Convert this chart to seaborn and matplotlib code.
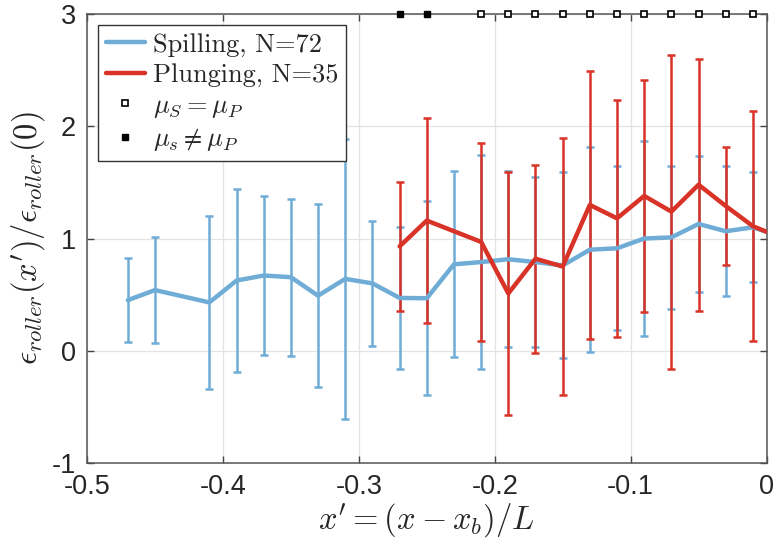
import matplotlib
matplotlib.use('Agg')
import matplotlib.pyplot as plt
from matplotlib.lines import Line2D
import seaborn as sns
import numpy as np
import pandas as pd

# spilling breakers: mean and std of normalized roller dissipation
x_spill = [-0.47, -0.45, -0.41, -0.39, -0.37, -0.35, -0.33, -0.31, -0.29, -0.27, -0.25, -0.23,
           -0.21, -0.19, -0.17, -0.15, -0.13, -0.11, -0.09, -0.07, -0.05, -0.03, -0.01, 0.0]
mean_spill = [0.45, 0.54, 0.43, 0.625, 0.67, 0.655, 0.49, 0.64, 0.60, 0.47, 0.467, 0.77,
              0.79, 0.815, 0.79, 0.76, 0.90, 0.913, 1.00, 1.01, 1.13, 1.065, 1.10, 1.06]
std_spill = [0.375, 0.475, 0.775, 0.815, 0.705, 0.70, 0.815, 1.25, 0.555, 0.635, 0.865, 0.83,
             0.955, 0.785, 0.76, 0.83, 0.915, 0.73, 0.87, 0.64, 0.605, 0.58, 0.49]

# plunging breakers
x_plunge = [-0.27, -0.25, -0.21, -0.19, -0.17, -0.15, -0.13, -0.11, -0.09, -0.07, -0.05, -0.03, -0.01, 0.0]
mean_plunge = [0.93, 1.16, 0.97, 0.51, 0.82, 0.75, 1.30, 1.18, 1.38, 1.24, 1.48, 1.29, 1.11, 1.06]
std_plunge = [0.575, 0.915, 0.88, 1.085, 0.84, 1.15, 1.195, 1.055, 1.035, 1.40, 1.125, 0.525, 1.025]

# significance markers along the top
x_same = [-0.21, -0.19, -0.17, -0.15, -0.13, -0.11, -0.09, -0.07, -0.05, -0.03, -0.01]
x_diff = [-0.27, -0.25]
y_marker = 3

blue = '#6fadd6'
red = '#d93328'

sns.set_theme(style="whitegrid")
plt.rcParams['font.family'] = ['Liberation Sans', 'DejaVu Sans']
plt.rcParams['mathtext.fontset'] = 'cm'
plt.rcParams['axes.unicode_minus'] = False

df = pd.concat([
    pd.DataFrame({'x': x_spill, 'value': mean_spill, 'case': 'Spilling, N=72'}),
    pd.DataFrame({'x': x_plunge, 'value': mean_plunge, 'case': 'Plunging, N=35'}),
])

fig = plt.figure(figsize=(7.73, 5.44), dpi=100)
ax = fig.add_axes([0.1126, 0.1494, 0.879, 0.8243])

# error bars (no error bar at x'=0)
ax.errorbar(x_spill[:-1], mean_spill[:-1], yerr=std_spill, fmt='none', ecolor=blue,
            elinewidth=1.8, capsize=3, capthick=1.8, zorder=2)
ax.errorbar(x_plunge[:-1], mean_plunge[:-1], yerr=std_plunge, fmt='none', ecolor=red,
            elinewidth=1.8, capsize=3, capthick=1.8, zorder=2)

sns.lineplot(data=df, x='x', y='value', hue='case', palette=[blue, red], lw=3.2,
             sort=False, legend=False, ax=ax, zorder=3)

ax.plot(x_same, [y_marker] * len(x_same), 's', ms=5, mfc='white', mec='black', mew=1.2,
        ls='none', clip_on=False, zorder=5)
ax.plot(x_diff, [y_marker] * len(x_diff), 's', ms=5, mfc='black', mec='black',
        ls='none', clip_on=False, zorder=5)

ax.set_xlim(-0.5, 0)
ax.set_ylim(-1, 3)
ax.set_xticks(np.arange(-0.5, 0.01, 0.1))
ax.set_xticklabels(['-0.5', '-0.4', '-0.3', '-0.2', '-0.1', '0'])
ax.set_yticks([-1, 0, 1, 2, 3])
ax.set_yticklabels(['-1', '0', '1', '2', '3'])
ax.tick_params(axis='both', labelsize=19.5, direction='in', length=5, width=1, color='#444444',
               top=True, right=True, bottom=True, left=True, pad=8)
ax.grid(True, color='#e3e3e3', lw=0.9)
ax.set_facecolor('white')
for s in ax.spines.values():
    s.set_color('#555555')
    s.set_linewidth(1.1)

ax.set_xlabel(r"$x' = (x - x_b)/L$", fontsize=23.5, labelpad=1)
ax.set_ylabel(r"$\epsilon_{roller}(x')/\epsilon_{roller}(0)$", fontsize=23.5, labelpad=3)

handles = [
    Line2D([], [], color=blue, lw=3.2),
    Line2D([], [], color=red, lw=3.2),
    Line2D([], [], marker='s', ls='none', ms=5, mfc='white', mec='black', mew=1.2),
    Line2D([], [], marker='s', ls='none', ms=5, mfc='black', mec='black'),
]
labels = ['Spilling, N=72', 'Plunging, N=35', r'$\mu_S = \mu_P$', r'$\mu_s \neq \mu_P$']
leg = ax.legend(handles, labels, loc='upper left',
                prop={'family': 'cmr10', 'size': 19}, frameon=True, fancybox=False,
                edgecolor='#333333', framealpha=1, handlelength=1.5, handletextpad=0.3,
                labelspacing=0.25, borderpad=0.3, borderaxespad=0.4)
leg.get_frame().set_linewidth(1.0)

fig.savefig('out.png', dpi=100)
